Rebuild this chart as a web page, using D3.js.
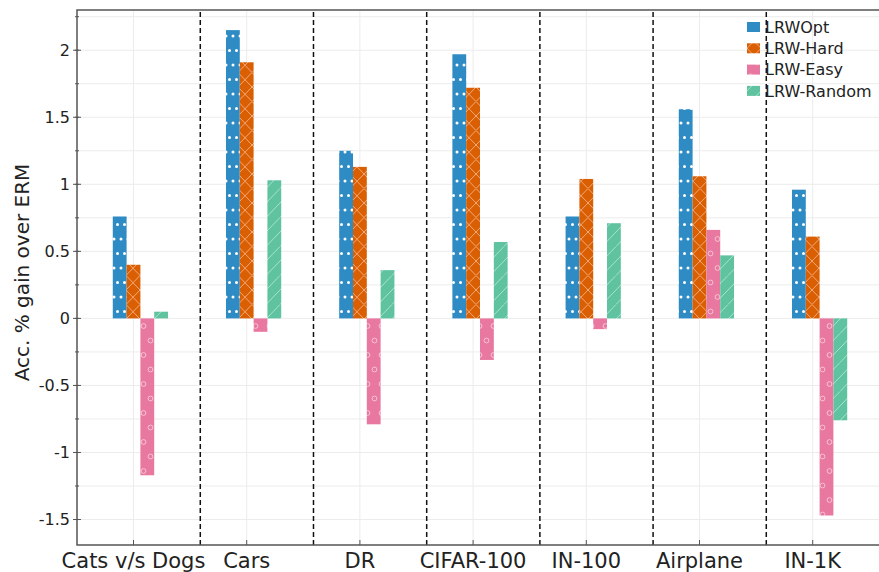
<!DOCTYPE html>
<html>
<head>
<meta charset="utf-8">
<script src="https://cdn.jsdelivr.net/npm/d3@7"></script>
<style>
  body { margin: 0; background: #fff; }
  svg text { font-family: "DejaVu Sans", sans-serif; fill: #222; }
</style>
</head>
<body>
<div id="chart"></div>
<script>
// ---- data
var categories = ["Cats v/s Dogs", "Cars", "DR", "CIFAR-100", "IN-100", "Airplane", "IN-1K"];
var seriesNames = ["LRWOpt", "LRW-Hard", "LRW-Easy", "LRW-Random"];
var lrwOpt    = [0.76, 2.15, 1.25, 1.97, 0.76, 1.56, 0.96];
var lrwHard   = [0.40, 1.91, 1.13, 1.72, 1.04, 1.06, 0.61];
var lrwEasy   = [-1.17, -0.10, -0.79, -0.31, -0.08, 0.66, -1.47];
var lrwRandom = [0.05, 1.03, 0.36, 0.57, 0.71, 0.47, -0.76];
var yTicks = [-1.5, -1, -0.5, 0, 0.5, 1, 1.5, 2];

var colors = ["#2e8bc4", "#d95f02", "#e8789f", "#5fc3a0"];
var hatchColors = ["#ffffff", "#f2a878", "#f8c2d4", "#a8e2cc"];
var allSeries = [lrwOpt, lrwHard, lrwEasy, lrwRandom];

var W = 879, H = 572;
var margin = { left: 77, top: 10, bottom: 27 };

var svg = d3.select("#chart").append("svg")
  .attr("width", W).attr("height", H);

// ---- hatch patterns
var defs = svg.append("defs");
function pat(id, w, h) {
  return defs.append("pattern").attr("id", id)
    .attr("patternUnits", "userSpaceOnUse")
    .attr("width", w).attr("height", h);
}
var p0 = pat("hatch0", 7, 29);
p0.append("rect").attr("width", 7).attr("height", 29).attr("fill", colors[0]);
p0.append("circle").attr("cx", 2).attr("cy", 7).attr("r", 1.5).attr("fill", hatchColors[0]);
p0.append("circle").attr("cx", 5.5).attr("cy", 21.5).attr("r", 1.5).attr("fill", hatchColors[0]);

var p1 = pat("hatch1", 14, 29);
p1.append("rect").attr("width", 14).attr("height", 29).attr("fill", colors[1]);
p1.append("path").attr("d", "M0,0L14,14.5L0,29M14,0L0,14.5L14,29")
  .attr("stroke", hatchColors[1]).attr("stroke-width", 1).attr("fill", "none");

var p2 = pat("hatch2", 14, 29);
p2.append("rect").attr("width", 14).attr("height", 29).attr("fill", colors[2]);
p2.append("circle").attr("cx", 3.5).attr("cy", 7).attr("r", 2.4)
  .attr("fill", "none").attr("stroke", hatchColors[2]).attr("stroke-width", 1);
p2.append("circle").attr("cx", 10.5).attr("cy", 21.5).attr("r", 2.4)
  .attr("fill", "none").attr("stroke", hatchColors[2]).attr("stroke-width", 1);

var p3 = pat("hatch3", 14, 29);
p3.append("rect").attr("width", 14).attr("height", 29).attr("fill", colors[3]);
p3.append("path").attr("d", "M0,29L14,14.5M0,14.5L14,0")
  .attr("stroke", hatchColors[3]).attr("stroke-width", 1).attr("fill", "none");

// ---- scales
var y = d3.scaleLinear().domain([-1.69, 2.30]).range([H - margin.bottom, margin.top]);
// group index -> tick position
var x = d3.scaleLinear().domain([0, 6]).range([133.5, 812.7]);
var step = x(1) - x(0);
var barW = step * 0.122;
var xLeft = margin.left, xRight = W + 10;

// ---- grid
var minorTicks = d3.range(-1.5, 2.3, 0.25);
svg.append("g").selectAll("line").data(minorTicks).enter().append("line")
  .attr("x1", xLeft).attr("x2", xRight)
  .attr("y1", d => y(d)).attr("y2", d => y(d))
  .attr("stroke", "#ececec").attr("stroke-width", 1);
svg.append("g").selectAll("line").data(categories).enter().append("line")
  .attr("x1", (d, i) => x(i)).attr("x2", (d, i) => x(i))
  .attr("y1", y.range()[0]).attr("y2", y.range()[1])
  .attr("stroke", "#ececec").attr("stroke-width", 1);

// ---- bars
allSeries.forEach(function (vals, s) {
  svg.append("g").selectAll("rect").data(vals).enter().append("rect")
    .attr("x", (d, i) => x(i) - 1.5 * barW + s * barW)
    .attr("width", barW)
    .attr("y", d => y(Math.max(0, d)))
    .attr("height", d => Math.abs(y(d) - y(0)))
    .attr("fill", "url(#hatch" + s + ")");
});

// ---- group separators
svg.append("g").selectAll("line").data(categories.slice(1)).enter().append("line")
  .attr("x1", (d, i) => x(i) + step * 0.59).attr("x2", (d, i) => x(i) + step * 0.59)
  .attr("y1", y.range()[0]).attr("y2", y.range()[1])
  .attr("stroke", "#111").attr("stroke-width", 1.5)
  .attr("stroke-dasharray", "5,3");

// ---- axes frame
var frame = svg.append("g").attr("stroke", "#555").attr("stroke-width", 1.5).attr("fill", "none");
frame.append("path").attr("d",
  "M" + xRight + "," + y.range()[1] + "H" + xLeft + "V" + y.range()[0] + "H" + xRight);

// y ticks
var yAxis = svg.append("g");
yAxis.selectAll("line.minor").data(minorTicks).enter().append("line")
  .attr("x1", xLeft - 2).attr("x2", xLeft + 2)
  .attr("y1", d => y(d)).attr("y2", d => y(d))
  .attr("stroke", "#555").attr("stroke-width", 1);
yAxis.selectAll("line.major").data(yTicks).enter().append("line")
  .attr("x1", xLeft - 4).attr("x2", xLeft + 4)
  .attr("y1", d => y(d)).attr("y2", d => y(d))
  .attr("stroke", "#555").attr("stroke-width", 1);
yAxis.selectAll("text").data(yTicks).enter().append("text")
  .attr("x", xLeft - 7).attr("y", d => y(d)).attr("dy", "0.35em")
  .attr("text-anchor", "end").style("font-size", "16px")
  .text(d => String(d));

// x ticks
var xAxis = svg.append("g");
xAxis.selectAll("line").data(categories).enter().append("line")
  .attr("x1", (d, i) => x(i)).attr("x2", (d, i) => x(i))
  .attr("y1", y.range()[0]).attr("y2", y.range()[0] - 5)
  .attr("stroke", "#555").attr("stroke-width", 1);
xAxis.selectAll("text").data(categories).enter().append("text")
  .attr("x", (d, i) => x(i)).attr("y", H - 4)
  .attr("text-anchor", "middle").style("font-size", "21px")
  .text(d => d);

// y label
svg.append("text")
  .attr("transform", "translate(29," + ((y.range()[0] + y.range()[1]) / 2 - 5) + ") rotate(-90)")
  .attr("text-anchor", "middle").style("font-size", "20px")
  .text("Acc. % gain over ERM");

// ---- legend
var legend = svg.append("g").attr("transform", "translate(747,27)");
var item = legend.selectAll("g").data(seriesNames).enter().append("g")
  .attr("transform", (d, i) => "translate(0," + (i * 21.3) + ")");
item.append("rect").attr("x", 0).attr("y", -5).attr("width", 13).attr("height", 10)
  .attr("fill", (d, i) => "url(#hatch" + i + ")");
item.append("text").attr("x", 18).attr("dy", "0.35em").style("font-size", "16px")
  .text(d => d);
</script>
</body>
</html>
